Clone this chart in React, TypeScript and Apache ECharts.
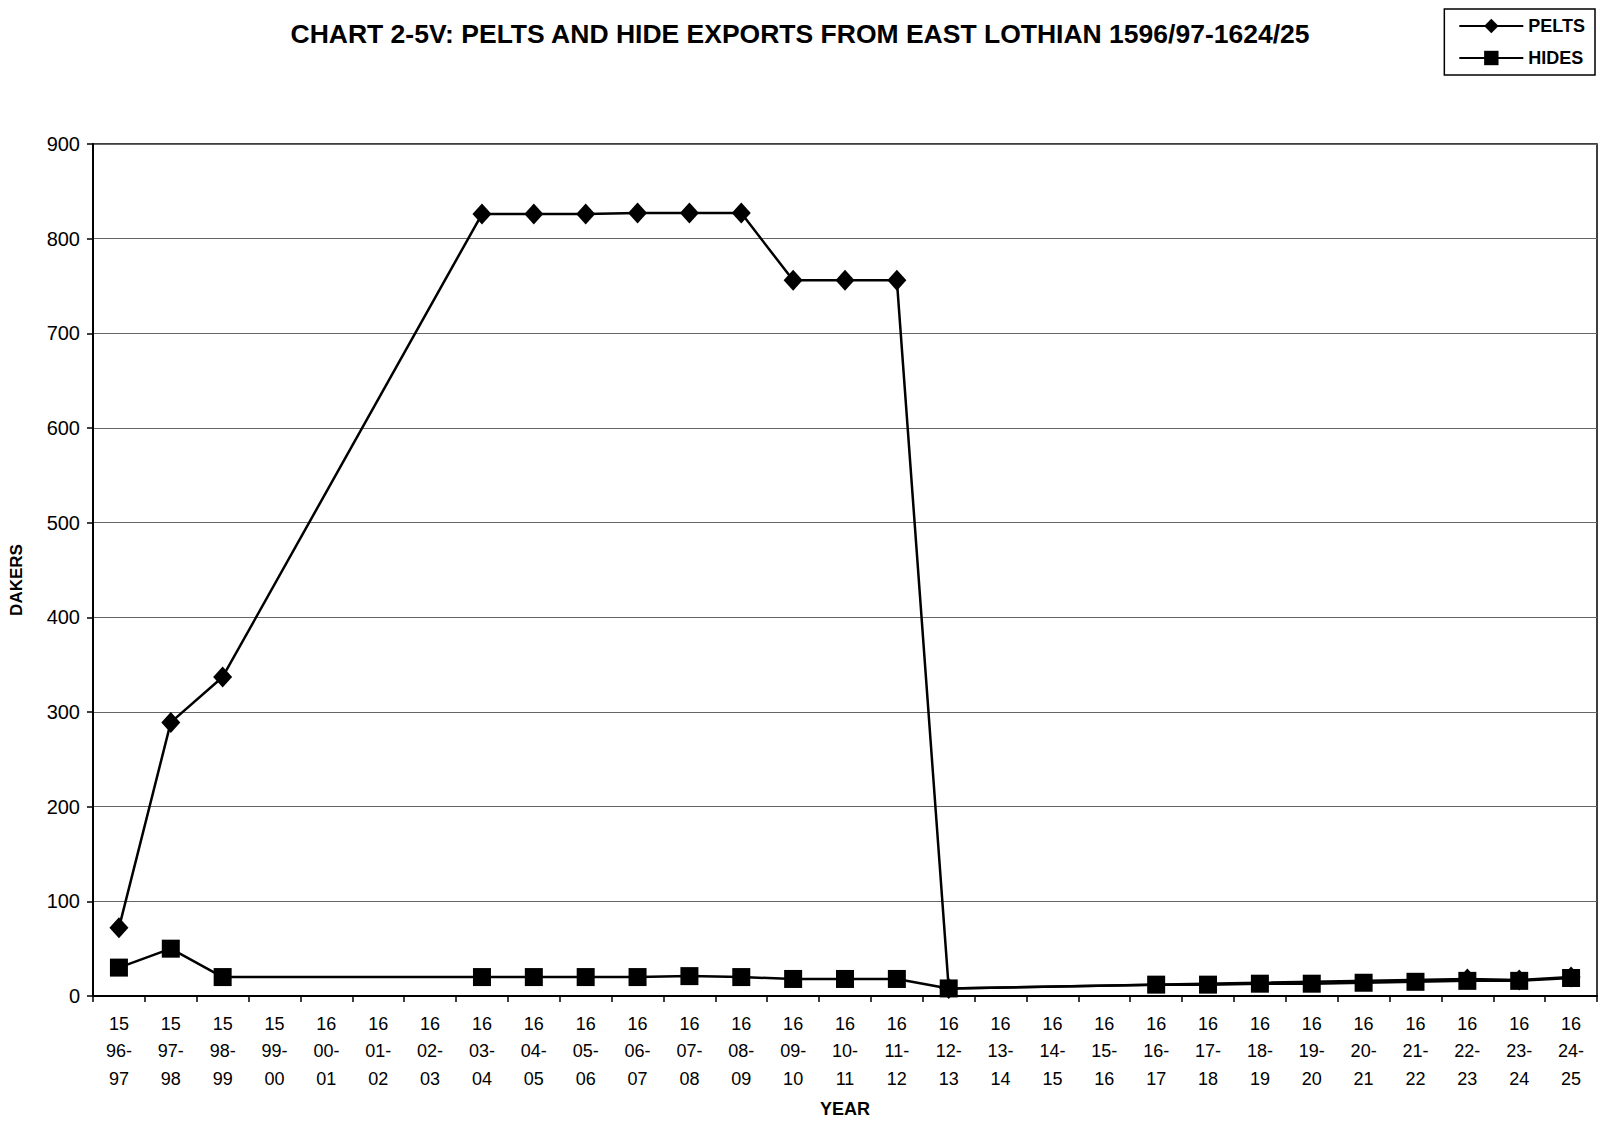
import React, { useEffect, useRef } from "react";
import * as echarts from "echarts";

const categories = [
  "15\n96-\n97", "15\n97-\n98", "15\n98-\n99", "15\n99-\n00", "16\n00-\n01", "16\n01-\n02",
  "16\n02-\n03", "16\n03-\n04", "16\n04-\n05", "16\n05-\n06", "16\n06-\n07", "16\n07-\n08",
  "16\n08-\n09", "16\n09-\n10", "16\n10-\n11", "16\n11-\n12", "16\n12-\n13", "16\n13-\n14",
  "16\n14-\n15", "16\n15-\n16", "16\n16-\n17", "16\n17-\n18", "16\n18-\n19", "16\n19-\n20",
  "16\n20-\n21", "16\n21-\n22", "16\n22-\n23", "16\n23-\n24", "16\n24-\n25",
];

const pelts: (number | null)[] = [
  72, 289, 337, null, null, null, null, 826, 826, 826, 827, 827, 827, 756, 756, 756, 8,
  null, null, null, null, null, null, null, null, null, 18, 17, 20,
];

const hides: (number | null)[] = [
  30, 50, 20, null, null, null, null, 20, 20, 20, 20, 21, 20, 18, 18, 18, 8,
  null, null, null, 12, 12, 13, 13, 14, 15, 16, 16, 19,
];

const yTicks = { min: 0, max: 900, interval: 100 };

const FONT = "'Liberation Sans', Arial, sans-serif";

export default function App() {
  const ref = useRef<HTMLDivElement>(null);
  useEffect(() => {
    if (!ref.current) return;
    const chart = echarts.init(ref.current, undefined, { renderer: "svg" });
    chart.setOption({
      animation: false,
      backgroundColor: "#fff",
      textStyle: { fontFamily: FONT, color: "#000" },
      title: {
        text: "CHART 2-5V: PELTS AND HIDE EXPORTS FROM EAST LOTHIAN 1596/97-1624/25",
        left: 795,
        top: 15,
        textAlign: "center",
        textStyle: { fontFamily: FONT, fontWeight: "bold", fontSize: 26.5, color: "#000" },
      },
      legend: {
        orient: "vertical",
        right: 5,
        top: 9,
        padding: [8, 10, 8, 14],
        itemGap: 14,
        itemWidth: 64,
        itemHeight: 18,
        borderColor: "#000",
        borderWidth: 1.5,
        textStyle: { fontFamily: FONT, fontWeight: "bold", fontSize: 18, color: "#000" },
        data: ["PELTS", "HIDES"],
      },
      grid: {
        left: 89,
        right: 3,
        top: 144,
        bottom: 111,
        show: true,
        borderColor: "#000",
        borderWidth: 1.5,
      },
      xAxis: {
        type: "category",
        data: categories,
        boundaryGap: true,
        name: "YEAR",
        nameLocation: "middle",
        nameGap: 104,
        nameTextStyle: { fontFamily: FONT, fontWeight: "bold", fontSize: 18, color: "#000" },
        axisLine: { lineStyle: { color: "#000", width: 2 } },
        axisTick: { show: true, inside: false, length: 6, alignWithLabel: false, lineStyle: { color: "#000", width: 1.5 } },
        axisLabel: {
          interval: 0,
          margin: 14,
          fontFamily: FONT,
          fontSize: 18,
          lineHeight: 27.5,
          color: "#000",
        },
        splitLine: { show: false },
      },
      yAxis: {
        type: "value",
        min: yTicks.min,
        max: yTicks.max,
        interval: yTicks.interval,
        name: "DAKERS",
        nameLocation: "middle",
        nameGap: 68,
        nameRotate: 90,
        nameTextStyle: {
          fontFamily: FONT,
          fontWeight: "bold",
          fontSize: 17,
          color: "#000",
          padding: [0, 20, 0, 0],
        },
        axisLine: { show: true, lineStyle: { color: "#000", width: 2 } },
        axisTick: { show: true, inside: false, length: 6, lineStyle: { color: "#000", width: 1.5 } },
        axisLabel: { margin: 13, fontFamily: FONT, fontSize: 20, color: "#000" },
        splitLine: { show: true, lineStyle: { color: "#666", width: 1.2 } },
      },
      series: [
        {
          name: "PELTS",
          type: "line",
          data: pelts,
          connectNulls: true,
          symbol: "diamond",
          symbolSize: [19, 21],
          itemStyle: { color: "#000" },
          lineStyle: { color: "#000", width: 2.5 },
          z: 2,
        },
        {
          name: "HIDES",
          type: "line",
          data: hides,
          connectNulls: true,
          symbol: "rect",
          symbolSize: 18,
          itemStyle: { color: "#000" },
          lineStyle: { color: "#000", width: 2.5 },
          z: 3,
        },
      ],
    });
    return () => chart.dispose();
  }, []);
  return (
    <div
      ref={ref}
      style={{ position: "fixed", left: 0, top: 0, width: 1600, height: 1123 }}
    />
  );
}
